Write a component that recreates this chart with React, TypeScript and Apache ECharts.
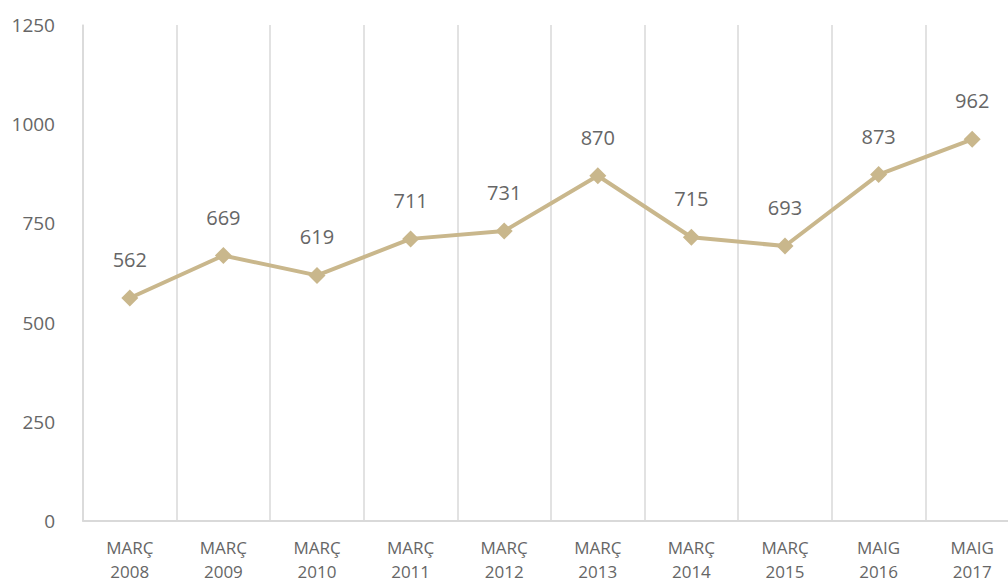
import React, { useEffect, useRef } from "react";
import * as echarts from "echarts";

const categories = ["MARÇ\n2008", "MARÇ\n2009", "MARÇ\n2010", "MARÇ\n2011", "MARÇ\n2012", "MARÇ\n2013", "MARÇ\n2014", "MARÇ\n2015", "MAIG\n2016", "MAIG\n2017"];
const values = [562, 669, 619, 711, 731, 870, 715, 693, 873, 962];

export default function App() {
  const ref = useRef<HTMLDivElement>(null);
  useEffect(() => {
    const chart = echarts.init(ref.current!, null, { renderer: "svg" });
    chart.setOption({
      animation: false,
      textStyle: { fontFamily: "Open Sans" },
      grid: { left: 83, right: 1, top: 25, bottom: 61, containLabel: false },
      xAxis: {
        type: "category",
        data: categories,
        boundaryGap: true,
        axisLine: { show: true, lineStyle: { color: "#d9d9d9", width: 2 } },
        axisTick: { show: false },
        axisLabel: { color: "#666666", fontSize: 17, lineHeight: 24, margin: 14, interval: 0 },
        splitLine: { show: true, interval: 0, lineStyle: { color: "#d9d9d9", width: 1.5 } },
      },
      yAxis: {
        type: "value",
        min: 0,
        max: 1250,
        interval: 250,
        axisLine: { show: true, lineStyle: { color: "#d9d9d9", width: 1.5 } },
        axisTick: { show: false },
        splitLine: { show: false },
        axisLabel: { color: "#666666", fontSize: 19, margin: 28, formatter: (v: number) => String(v) },
      },
      series: [
        {
          type: "line",
          data: values,
          symbol: "diamond",
          symbolSize: 17,
          lineStyle: { color: "#c9b78c", width: 4 },
          itemStyle: { color: "#c9b78c" },
          label: { show: true, position: "top", distance: 20, color: "#666666", fontSize: 20 },
        },
      ],
    });
    return () => chart.dispose();
  }, []);
  return (
    <div style={{ position: "absolute", left: 0, top: 0, width: 1008, height: 583, overflow: "hidden" }}>
      <div ref={ref} style={{ width: 1020, height: 583 }} />
    </div>
  );
}
